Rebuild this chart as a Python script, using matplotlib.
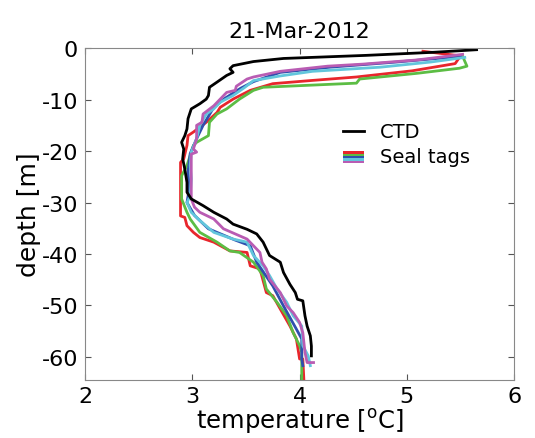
import numpy as np
import matplotlib
matplotlib.use("Agg")
import matplotlib.pyplot as plt
from matplotlib.patches import Rectangle

plt.rcParams['axes.unicode_minus'] = False

# CTD profile (temperature degC, depth m)
ctd_temp = [5.65, 5.25, 4.62, 3.85, 3.57, 3.38, 3.35, 3.38, 3.32, 3.23, 3.16, 3.15, 3.13, 3.07,
            2.99, 2.96, 2.95, 2.93, 2.90, 2.92, 2.91, 2.93, 2.95, 2.95, 2.99, 3.10, 3.20, 3.32,
            3.38, 3.51, 3.60, 3.66, 3.72, 3.82, 3.85, 3.91, 3.96, 3.98, 4.03, 4.05, 4.07, 4.10,
            4.11, 4.11]
ctd_depth = [-0.3, -0.8, -1.4, -2.0, -2.6, -3.4, -4.0, -4.7, -5.3, -6.6, -7.6, -9.2, -9.9, -10.8,
             -11.8, -13.7, -15.7, -17.0, -18.3, -19.6, -21.5, -23.5, -26.1, -28.0, -29.3, -30.6, -31.9, -33.2,
             -34.2, -35.2, -36.1, -37.7, -40.3, -41.6, -43.6, -45.9, -47.5, -48.8, -49.1, -52.0, -54.0, -55.9,
             -57.9, -59.8]

# seal tag profiles
red_temp = [5.15, 5.50, 5.45, 5.05, 4.53, 4.10, 3.75, 3.54, 3.38, 3.26, 3.23, 3.13, 3.01, 2.96, 2.95,
            2.92, 2.89, 2.89, 2.93, 2.95, 3.01, 3.07, 3.20, 3.35, 3.51, 3.54, 3.63, 3.69, 3.75, 3.82,
            3.91, 3.97, 3.99, 4.00, 4.03, 4.04]
red_depth = [-0.6, -1.5, -3.0, -4.4, -5.6, -6.3, -6.9, -8.2, -9.9, -11.5, -12.5, -14.4, -16.3, -17.0, -18.9,
             -21.5, -22.2, -32.6, -32.9, -34.5, -35.8, -36.8, -37.7, -39.4, -39.7, -42.3, -42.9, -47.5, -48.1, -50.7,
             -54.0, -56.5, -59.1, -60.4, -60.4, -64.5]

green_temp = [5.52, 5.56, 5.49, 5.09, 4.56, 4.53, 3.66, 3.57, 3.44, 3.32, 3.23, 3.16, 3.15, 3.04, 3.01,
              2.99, 2.95, 2.90, 2.90, 2.95, 2.98, 3.07, 3.23, 3.35, 3.44, 3.57, 3.66, 3.69, 3.79, 3.88,
              3.94, 4.00, 4.02, 4.02]
green_depth = [-1.6, -3.5, -3.9, -4.9, -6.0, -6.8, -7.6, -8.2, -9.9, -11.8, -12.8, -14.4, -17.0, -18.3, -18.9,
               -20.2, -22.8, -24.8, -29.3, -31.9, -33.2, -35.8, -37.7, -39.4, -39.7, -41.6, -44.2, -46.8, -49.4, -52.0,
               -55.3, -57.8, -59.1, -64.5]

blue_temp = [5.50, 4.90, 4.28, 3.82, 3.57, 3.45, 3.30, 3.20, 3.10, 3.04, 2.98, 2.96, 2.97, 2.95, 3.02,
             3.15, 3.40, 3.54, 3.60, 3.75, 3.85, 3.97, 4.02, 4.02, 4.03]
blue_depth = [-1.6, -2.7, -3.7, -4.7, -6.5, -7.8, -9.8, -11.5, -15.0, -17.6, -20.5, -24.0, -27.5, -30.0, -32.5,
              -35.1, -37.3, -38.4, -41.6, -46.2, -50.1, -54.6, -56.5, -60.4, -61.7]

cyan_temp = [5.54, 5.22, 4.75, 4.12, 3.82, 3.57, 3.49, 3.38, 3.26, 3.20, 3.13, 3.07, 3.04, 2.99, 2.98,
             2.99, 2.98, 2.95, 2.99, 3.07, 3.20, 3.38, 3.51, 3.57, 3.66, 3.72, 3.79, 3.88, 3.94, 4.02,
             4.03, 4.08, 4.10]
cyan_depth = [-1.8, -2.7, -3.7, -4.5, -5.4, -6.3, -7.6, -9.2, -10.5, -11.8, -12.8, -15.0, -17.6, -20.2, -22.8,
              -25.4, -28.7, -30.0, -31.9, -33.5, -35.8, -37.1, -37.7, -40.3, -42.3, -44.2, -46.8, -49.4, -52.0, -54.0,
              -57.8, -59.8, -61.7]

magenta_temp = [5.52, 5.09, 4.59, 4.26, 3.82, 3.57, 3.51, 3.41, 3.40, 3.32, 3.26, 3.20, 3.10, 3.09, 3.04,
                3.04, 3.01, 3.04, 2.99, 2.99, 2.99, 3.02, 3.07, 3.20, 3.29, 3.51, 3.57, 3.63, 3.65, 3.69,
                3.72, 3.82, 3.88, 3.94, 4.00, 4.03, 4.05, 4.07, 4.13]
magenta_depth = [-1.2, -2.3, -3.1, -3.5, -4.5, -5.6, -6.0, -7.4, -8.2, -8.6, -9.9, -11.2, -12.8, -14.4, -15.0,
                 -17.6, -19.6, -20.2, -20.6, -25.4, -29.3, -30.9, -31.9, -33.2, -35.1, -37.1, -38.4, -39.7, -41.6, -42.9,
                 -44.9, -47.5, -50.1, -51.4, -53.3, -55.3, -59.1, -61.1, -61.1]

tag_colors = ['#e8262c', '#5cbd44', '#2f4fae', '#62c6dc', '#b95cb3']
tags = [(red_temp, red_depth), (green_temp, green_depth), (blue_temp, blue_depth),
        (cyan_temp, cyan_depth), (magenta_temp, magenta_depth)]


class StripeHandler:
    def legend_artist(self, legend, orig_handle, fontsize, handlebox):
        x0, y0 = handlebox.xdescent, handlebox.ydescent
        w, h = handlebox.width, handlebox.height
        n = len(tag_colors)
        for i, c in enumerate(tag_colors):
            r = Rectangle((x0, y0 + h * (n - 1 - i) / n), w, h / n, facecolor=c,
                          edgecolor='none', transform=handlebox.get_transform())
            handlebox.add_artist(r)
        return r


fig = plt.figure(figsize=(5.35, 4.39), dpi=100)
ax = fig.add_axes([0.159, 0.132, 0.802, 0.756])

for (t, d), c in zip(tags, tag_colors):
    ax.plot(t, d, color=c, lw=2.0)
ctd_line, = ax.plot(ctd_temp, ctd_depth, color='black', lw=2.0)

ax.set_xlim(2, 6)
ax.set_ylim(-64.5, 0)
ax.set_xticks([2, 3, 4, 5, 6])
ax.set_yticks([0, -10, -20, -30, -40, -50, -60])
ax.tick_params(direction='in', top=True, right=True, labelsize=16, length=4, color='#555555')
ax.tick_params(axis='x', pad=4)
ax.tick_params(axis='y', pad=5)
for s in ax.spines.values():
    s.set_color('#888888')
    s.set_linewidth(0.8)
ax.set_xlabel('temperature [$^{\\rm o}$C]', fontsize=17.5, labelpad=0)
ax.set_ylabel('depth [m]', fontsize=18, labelpad=0)
ax.set_title('21-Mar-2012', fontsize=16, pad=8)

ax.legend([ctd_line, 'tags'], ['CTD', 'Seal tags'], handler_map={str: StripeHandler()},
          loc='upper left', bbox_to_anchor=(0.56, 0.83), frameon=False, fontsize=14,
          handlelength=1.1, handleheight=0.55, handletextpad=0.8, labelspacing=0.3)

fig.savefig('out.png', dpi=100)
